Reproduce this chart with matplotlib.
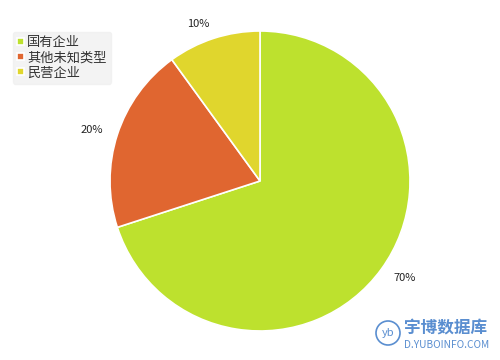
import matplotlib
matplotlib.use("Agg")
import matplotlib.pyplot as plt
from matplotlib.patches import Circle

plt.rcParams['font.family'] = ['Noto Sans CJK SC', 'DejaVu Sans']

categories = ['国有企业', '其他未知类型', '民营企业']
values = [70, 20, 10]
colors = ['#bde12e', '#e06630', '#e0d62d']

fig = plt.figure(figsize=(5, 3.6), dpi=100)
ax = fig.add_axes([0.22, 0.0806, 0.6, 0.8333])
wedges, texts = ax.pie(values, colors=colors, startangle=90, counterclock=False,
                       labels=[f'{v}%' for v in values], labeldistance=1.1,
                       wedgeprops=dict(edgecolor='white', linewidth=1.2),
                       textprops=dict(fontsize=8, color='#222222'))
ax.set_xlim(-1, 1)
ax.set_ylim(-1, 1)
ax.set_aspect('equal')

leg = fig.legend(wedges, categories, loc='upper left', bbox_to_anchor=(0.012, 0.93),
                 fontsize=9.5, frameon=True, handlelength=0.5, handleheight=0.5,
                 handletextpad=0.25, labelspacing=0.15, borderpad=0.35, fancybox=True)
leg.get_frame().set_facecolor('#f0f0f0')
leg.get_frame().set_edgecolor('#f0f0f0')
for t in leg.get_texts():
    t.set_color('#333333')

# watermark
blue = '#5a8ed0'
wax = fig.add_axes([0, 0, 1, 1], facecolor='none')
wax.set_xlim(0, 500)
wax.set_ylim(360, 0)
wax.axis('off')
wax.add_patch(Circle((388, 333), 12, fill=False, edgecolor=blue, linewidth=1.2))
wax.text(388, 333, 'yb', color=blue, fontsize=8, style='italic', ha='center', va='center')
wax.text(404, 328, '宇博数据库', color=blue, fontsize=12, fontweight='bold', ha='left', va='center')
wax.text(404, 345, 'D.YUBOINFO.COM', color=blue, fontsize=7.3, ha='left', va='center')

fig.savefig('out.png', dpi=100)
